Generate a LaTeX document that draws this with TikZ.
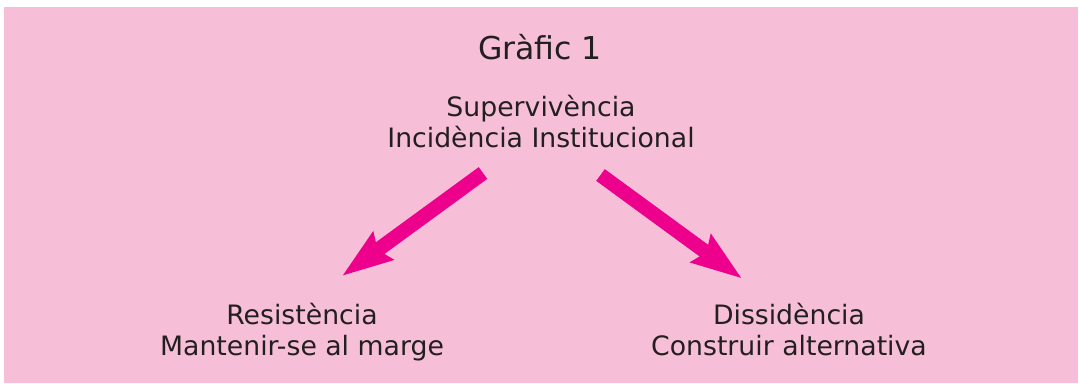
\documentclass[tikz,border=0pt]{standalone}
\usepackage{fontspec}
\setmainfont{DejaVu Sans}
\usetikzlibrary{arrows.meta}
\definecolor{bgpink}{HTML}{F7BFD7}
\definecolor{arrowpink}{HTML}{EC008C}
\definecolor{txt}{HTML}{231F20}
\begin{document}
\begin{tikzpicture}[x=1pt,y=-1pt,
  lbl/.style={text=txt, inner sep=0pt, align=center, anchor=base,
    font=\fontsize{26.7}{31}\selectfont},
  ttl/.style={text=txt, inner sep=0pt, anchor=base, font=\fontsize{31.5}{36}\selectfont},
  bigarrow/.style={draw=arrowpink, line width=14.5pt, line cap=butt,
    -{Stealth[length=50pt, width=33pt, inset=6pt]}}]
\useasboundingbox (0,0) rectangle (1079,383);
\fill[bgpink] (4,7) rectangle (1078,383);
\node[ttl] (title) at (540,59.5) {Gràfic 1};
\node[lbl] (top) at (541,147.7) {Supervivència\\Incidència Institucional};
\node[lbl] (left) at (302,355) {Resistència\\Mantenir-se al marge};
\node[lbl] (right) at (789,355) {Dissidència\\Construir alternativa};
\coordinate (ltail) at (483,173);
\coordinate (ltip) at (342,276);
\coordinate (rtail) at (600.5,175);
\coordinate (rtip) at (742,278.5);
\draw[bigarrow] (ltail) -- (ltip);
\draw[bigarrow] (rtail) -- (rtip);
\end{tikzpicture}
\end{document}
